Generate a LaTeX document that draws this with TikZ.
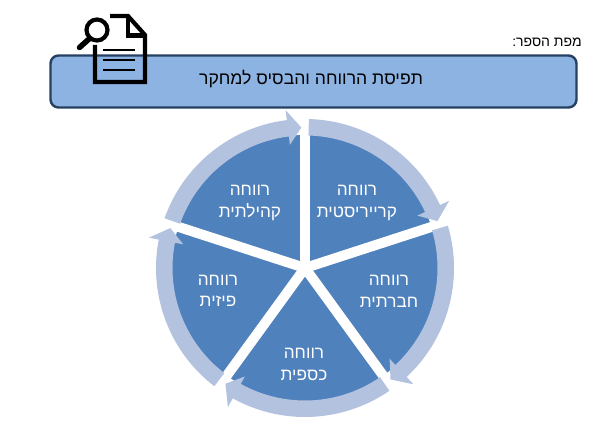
\documentclass[tikz,border=0pt]{standalone}
\usepackage{fontspec}
\setmainfont{Liberation Sans}
\newfontfamily\hebfont[Script=Hebrew]{Liberation Sans}
\TeXXeTstate=1
\usepackage{tikz}
\definecolor{sliceblue}{HTML}{4F81BD}
\definecolor{ringblue}{HTML}{B3C2DE}
\definecolor{barblue}{HTML}{8DB3E2}
\definecolor{barline}{HTML}{254061}
\newcommand{\heb}[1]{\beginR #1\endR}
% one ring arrow, #1 is the angle of the spoke it starts from
\newcommand{\ringarrow}[1]{
\fill[ringblue] (#1-1.5:149) arc[start angle=#1-1.5, end angle=#1-65, radius=149] -- (#1-65:159) -- (#1-70.5:140.5) -- (#1-65:124) -- (#1-65:132.5) arc[start angle=#1-65, end angle=#1-1.5, radius=132.5] -- cycle;
}
\tikzstyle{titlebar} = [rectangle, rounded corners = 8pt, minimum width = 526pt, minimum height = 52pt, draw = barline, line width = 2.4pt, fill = barblue]
\tikzstyle{slicelabel} = [text = white, align = center, font = \hebfont\fontsize{17.2}{21.5}\selectfont, inner sep = 0pt]
\tikzstyle{spoke} = [white, line width = 10pt]
\tikzstyle{icon} = [black, line width = 4.2pt]
\tikzstyle{iconthin} = [black, line width = 2.4pt]

\begin{document}
\begin{tikzpicture}[x = 1pt, y = 1pt]
\useasboundingbox (0,0) rectangle (602,437);

\node(titlebar) [titlebar] at (313.5,355.5) {};
\node(booktitle) [font = \hebfont\fontsize{17.6}{20}\selectfont, inner sep = 0pt] at (311,357.5) {\heb{תפיסת הרווחה והבסיס למחקר}};
\node(bookmap) [font = \hebfont\fontsize{14}{16}\selectfont, inner sep = 0pt, anchor = east] at (582,395) {\heb{מפת הספר:}};

% document with magnifier
\draw [icon, line join = miter] (110,421) -- (128,421) -- (145,402) -- (145,355) -- (95,355) -- (95,392);
\draw [icon] (128,421) -- (128,401.5) -- (145,401.5);
\draw [iconthin] (103,387) -- (135,387);
\draw [iconthin] (103,377) -- (135,377);
\draw [iconthin] (103,367) -- (135,367);
\draw [icon] (97,407) circle (10.5);
\draw [black, line width = 5.5pt, line cap = round] (89,398) -- (79.5,389.5);

\begin{scope}[shift = {(305,169)}]
\fill[sliceblue] (0,0) circle (133);

\draw [spoke] (0,0) -- (90:135);
\draw [spoke] (0,0) -- (18:135);
\draw [spoke] (0,0) -- (-54:135);
\draw [spoke] (0,0) -- (-126:135);
\draw [spoke] (0,0) -- (162:135);

\ringarrow{90}
\ringarrow{18}
\ringarrow{-54}
\ringarrow{-126}
\ringarrow{162}

\node(career) [slicelabel] at (52,65) {\heb{רווחה}\\\heb{קרייריסטית}};
\node(social) [slicelabel] at (84,-23.5) {\heb{רווחה}\\\heb{חברתית}};
\node(money) [slicelabel] at (-1,-96.5) {\heb{רווחה}\\\heb{כספית}};
\node(physical) [slicelabel] at (-87,-23) {\heb{רווחה}\\\heb{פיזית}};
\node(community) [slicelabel] at (-55,65) {\heb{רווחה}\\\heb{קהילתית}};
\end{scope}
\end{tikzpicture}
\end{document}
